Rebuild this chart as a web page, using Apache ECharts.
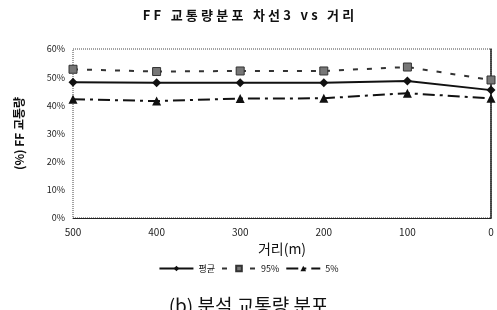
<!DOCTYPE html>
<html>
<head>
<meta charset="utf-8">
<script src="https://cdn.jsdelivr.net/npm/echarts@6/dist/echarts.min.js"></script>
<style>html,body{margin:0;padding:0;background:#fff}#main{width:497px;height:310px}</style>
</head>
<body>
<div id="main"></div>
<script>
// distance (m), axis runs 500 -> 0
const distances = [500, 400, 300, 200, 100, 0];
const meanVals = [48.2, 48.0, 48.0, 48.0, 48.6, 45.4];
const p95Vals = [52.8, 52.0, 52.2, 52.2, 53.6, 49.0];
const p5Vals = [42.2, 41.5, 42.4, 42.5, 44.3, 42.5];

const font = '"Noto Sans CJK KR", "DejaVu Sans", sans-serif';
const pair = (vals) => distances.map((d, i) => [d, vals[i]]);
// spread out the title letters a bit like the scanned original
const spaced = (s) => s.split('').join('\u2005');

const myChart = echarts.init(document.getElementById('main'));
myChart.setOption({
    backgroundColor: '#fff',
    animation: false,
    title: {
        text: spaced('FF 교통량분포 차선3 vs 거리'),
        left: 'center', top: 4,
        textStyle: { fontFamily: font, fontSize: 13, fontWeight: 'bold', color: '#111' }
    },
    legend: {
        bottom: 32, left: 'center', itemWidth: 34, itemHeight: 7, itemGap: 6,
        textStyle: { fontFamily: font, fontSize: 9, color: '#111' },
        data: ['평균', '95%', '5%']
    },
    grid: { left: 73, right: 6, top: 49, bottom: 92 },
    xAxis: {
        type: 'value', inverse: true, min: 0, max: 500, interval: 100,
        name: '거리(m)', nameLocation: 'middle', nameGap: 20,
        nameTextStyle: { fontFamily: font, fontSize: 14, color: '#111' },
        axisLine: { show: true, lineStyle: { color: '#222', width: 1 } },
        axisTick: { show: false },
        axisLabel: { fontFamily: font, fontSize: 10, color: '#222', margin: 9 },
        splitLine: { show: false }
    },
    yAxis: {
        type: 'value', min: 0, max: 60, interval: 10,
        name: '(%) FF 교통량', nameLocation: 'middle', nameGap: 48,
        nameTextStyle: { fontFamily: font, fontSize: 12, fontWeight: 'bold', color: '#111' },
        axisLine: { show: true, lineStyle: { color: '#222', width: 1.5 } },
        axisTick: { show: false },
        axisLabel: { fontFamily: font, fontSize: 9, color: '#222', formatter: '{value}%', margin: 8 },
        splitLine: { show: false }
    },
    graphic: [
        { type: 'rect', shape: { x: 73, y: 49, width: 418, height: 169 },
          style: { fill: 'none', stroke: '#444', lineWidth: 1, lineDash: [1, 1] }, silent: true },
        { type: 'text', left: 'center', top: 296,
          style: { text: '(b) 분석 교통량 분포', font: '19px "Noto Sans CJK KR"', fill: '#111' } }
    ],
    series: [
        {
            name: '평균', type: 'line', data: pair(meanVals),
            symbol: 'diamond', symbolSize: 9,
            itemStyle: { color: '#111' },
            lineStyle: { color: '#111', width: 2 }
        },
        {
            name: '95%', type: 'line', data: pair(p95Vals),
            symbol: 'rect', symbolSize: 8,
            itemStyle: { color: '#777', borderColor: '#333', borderWidth: 1 },
            lineStyle: { color: '#333', width: 2, type: [5, 9] }
        },
        {
            name: '5%', type: 'line', data: pair(p5Vals),
            symbol: 'triangle', symbolSize: 9,
            itemStyle: { color: '#111' },
            lineStyle: { color: '#111', width: 2, type: [12, 5, 3, 5] }
        }
    ]
});
</script>
</body>
</html>
